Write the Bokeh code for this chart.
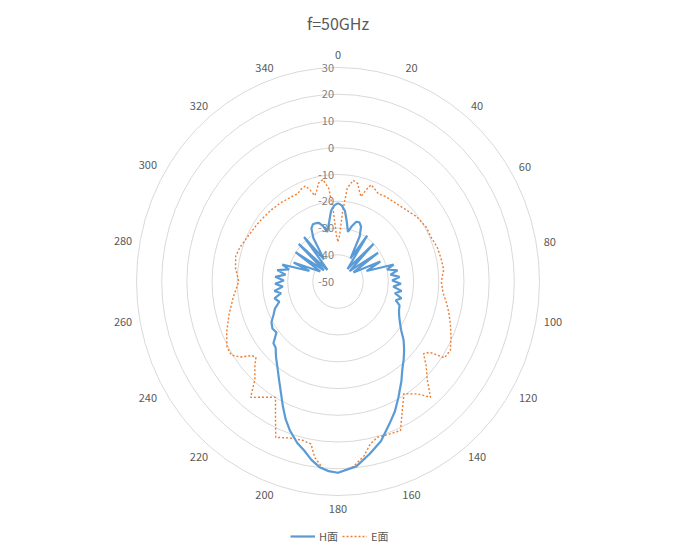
import numpy as np
from bokeh.plotting import figure
from bokeh.models import Range1d, Legend, LegendItem
from bokeh.core.properties import value
from bokeh.embed import file_html
from bokeh.resources import INLINE

# ---------------- data ----------------
TITLE = "f=50GHz"
radial_ticks = [-50, -40, -30, -20, -10, 0, 10, 20, 30]
angle_ticks = list(range(0, 360, 20))
series_names = ["H面", "E面"]

# H-plane (degrees clockwise from top, dB)
h_angles = [0, 3, 6, 9, 12, 15, 18, 21, 24, 27, 30,
            34, 39, 45, 50, 56, 61, 66, 71,
            74, 77, 80, 83, 86, 89, 92, 95, 98, 101, 104, 107, 110,
            114, 118, 122, 126, 130, 134, 138, 142, 146, 151, 155, 159, 164, 169, 174, 180,
            183, 186, 189, 192, 195, 199, 202, 205, 208, 212, 217, 221, 225, 228, 232, 236,
            240, 244, 248, 252, 256, 259, 262, 265, 268, 271, 274, 277, 280, 283, 286,
            289, 292, 298, 303, 307, 312, 316, 321, 326,
            329, 332, 335, 338, 341, 344, 347, 351, 354, 357, 360]
h_db = [-20.7, -21.5, -23.5, -27.5, -31.0, -28.5, -26.5, -26.3, -27.5, -31.0, -40.0,
        -29.3, -44.0, -30.0, -44.0, -30.8, -43.0, -31.6, -38.0,
        -27.0, -30.0, -26.0, -29.0, -25.5, -28.5, -25.0, -28.0, -24.5, -27.0, -24.0, -26.0, -24.0,
        -23.5, -22.5, -21.0, -19.0, -16.0, -13.5, -11.0, -8.5, -5.0, -0.5, 3.5, 7.0, 12.0, 15.7, 19.5, 21.5,
        21.0, 19.8, 17.5, 14.6, 12.5, 8.8, 5.5, 1.7, -2.0, -6.0, -10.0, -12.5, -15.0, -15.5, -19.0, -18.6,
        -19.5, -21.5, -23.0, -25.5, -24.0, -27.0, -24.5, -28.0, -25.0, -28.5, -25.0, -29.0, -25.5, -30.0, -27.0,
        -38.0, -31.0, -42.0, -29.9, -43.0, -29.0, -44.0, -28.6, -40.0,
        -31.0, -27.5, -26.4, -26.5, -26.8, -28.5, -31.0, -27.5, -23.5, -21.5, -20.7]

# E-plane (degrees clockwise from top, dB)
e_angles = [0, 2, 4, 6, 9, 12, 14, 16, 18, 20, 23, 26, 31, 38, 45, 52, 60, 66, 72, 78, 84, 90,
            96, 101, 105, 110, 115, 120, 124, 126, 128.5, 132, 136, 139.7, 143, 146, 148, 152, 156,
            160, 165, 168, 171, 175, 180,
            182, 185, 188, 190, 193, 198, 203, 206, 209.8, 214, 218.7, 222, 226, 229, 231, 234, 237,
            241, 247, 254, 262, 270, 277, 283, 288, 295, 305, 315, 322, 329, 334, 337, 340, 342,
            344, 346, 348, 351, 354, 356, 358, 360]
e_db = [-35.0, -33.0, -24.0, -15.0, -11.7, -12.5, -15.0, -17.0, -14.0, -11.5, -12.5, -13.5, -13.0,
        -12.8, -12.0, -10.5, -9.5, -9.5, -8.6, -8.2, -7.8, -9.0,
        -8.0, -6.0, -4.4, -2.5, -0.5, 1.5, 1.0, -5.0, -6.6, -2.9, 1.0, 6.8, 2.6, 0.7, -0.6, 4.4, 11.0,
        10.6, 10.3, 12.0, 16.0, 19.5, 21.5,
        21.3, 20.0, 16.4, 11.7, 11.0, 11.5, 13.3, 6.6, -0.1, 2.2, 5.5, -0.7, -4.1, -6.8, -6.0, -2.0, 0.5,
        0.4, -2.0, -5.0, -8.0, -10.6, -9.0, -8.3, -9.0, -10.4, -11.5, -12.3, -12.8, -13.3, -13.5, -12.5, -12.0, -14.0,
        -16.6, -15.0, -12.5, -11.4, -15.0, -24.0, -33.0, -35.0]

# ---------------- layout ----------------
W, H = 661, 544
R_MIN, R_MAX = radial_ticks[0], radial_ticks[-1]
SPAN = R_MAX - R_MIN
PX_X = 201.5 / SPAN      # px per unit horizontally
PX_Y = 214.0 / SPAN      # px per unit vertically
CX, CY = 337.5, 281.0    # centre, frame px from left / top

p = figure(width=W, height=H,
           x_range=Range1d(-CX / PX_X, (W - CX) / PX_X),
           y_range=Range1d(-(H - CY) / PX_Y, CY / PX_Y),
           output_backend="svg", toolbar_location=None,
           min_border=0, outline_line_color=None)
p.axis.visible = False
p.grid.visible = False
p.background_fill_color = "white"
p.border_fill_color = "white"

FONT = value("Noto Sans CJK SC")
TXT = "#595959"

# rings
ring_r = [t - R_MIN for t in radial_ticks[1:]]
p.ellipse(x=0, y=0, width=[2 * r for r in ring_r], height=[2 * r for r in ring_r],
          fill_color=None, line_color="#d9d9d9", line_width=1)


def polar(angles, dbs):
    a = np.radians(np.asarray(angles, dtype=float))
    r = np.asarray(dbs, dtype=float) - R_MIN
    return r * np.sin(a), r * np.cos(a)


hx, hy = polar(h_angles, h_db)
ex, ey = polar(e_angles, e_db)

re = p.line(ex, ey, line_color="#ED7D31", line_width=1.4, line_dash="2 2")
rh = p.line(hx, hy, line_color="#5B9BD5", line_width=2.2)

# radial tick labels
p.text(x=[0] * len(radial_ticks), y=[t - R_MIN for t in radial_ticks],
       text=[str(t) for t in radial_ticks], text_align="right", text_baseline="middle",
       x_offset=-4, text_font=FONT, text_font_size="11px", text_color="#7f7f7f")

# angle labels
ax, ay, xo, yo = [], [], [], []
for a in angle_ticks:
    s, c = np.sin(np.radians(a)), np.cos(np.radians(a))
    ax.append(SPAN * s)
    ay.append(SPAN * c)
    hw = 3.2 * len(str(a))
    hh = 6.0
    cand = []
    if abs(s) > 1e-6:
        cand.append(hw / abs(s))
    if abs(c) > 1e-6:
        cand.append(hh / abs(c))
    d = 7 + min(cand)
    xo.append(d * s)
    yo.append(-d * c)
p.text(x=ax, y=ay, text=[str(a) for a in angle_ticks], x_offset=xo, y_offset=yo,
       text_align="center", text_baseline="middle", text_font=FONT,
       text_font_size="11px", text_color=TXT)

# title
p.text(x=[0], y=[(CY - 22) / PX_Y], text=[TITLE], text_align="center",
       text_baseline="middle", text_font=FONT, text_font_size="16px", text_color=TXT)

legend = Legend(items=[LegendItem(label=series_names[0], renderers=[rh]),
                       LegendItem(label=series_names[1], renderers=[re])],
                orientation="horizontal", location=(290, 0),
                border_line_color=None, background_fill_alpha=0,
                label_text_font="Noto Sans CJK SC", label_text_font_size="11px",
                label_text_color=TXT, glyph_width=25, glyph_height=16,
                padding=0, margin=0, spacing=3, label_standoff=4)
p.add_layout(legend)

open("out.html", "w").write(file_html(p, INLINE))
